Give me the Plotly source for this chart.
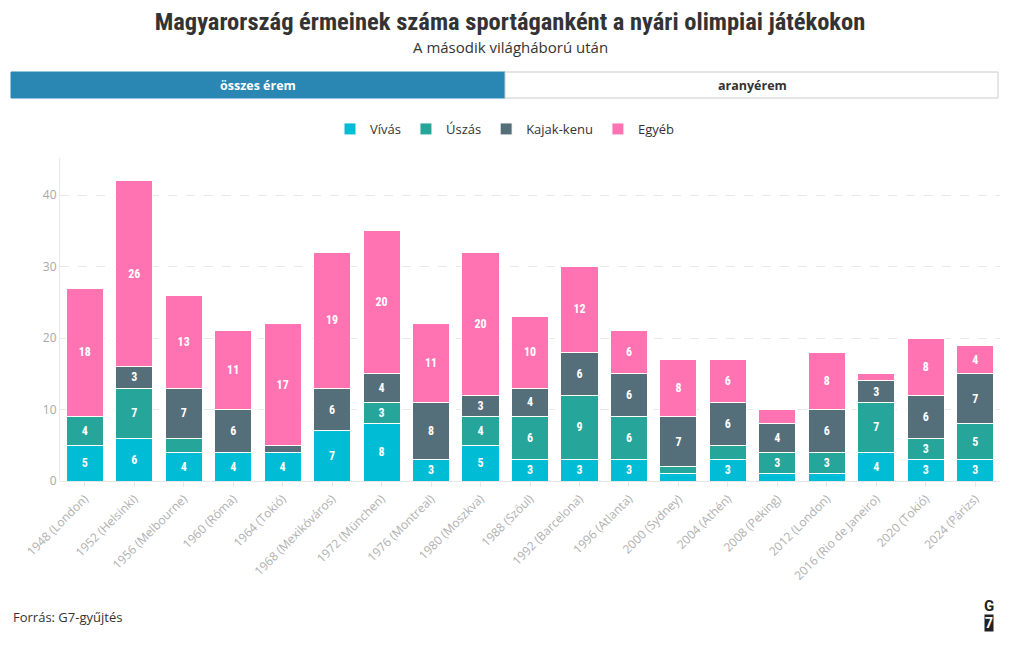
import plotly.graph_objects as go

games = ["1948 (London)", "1952 (Helsinki)", "1956 (Melbourne)", "1960 (Róma)", "1964 (Tokió)",
         "1968 (Mexikóváros)", "1972 (München)", "1976 (Montreal)", "1980 (Moszkva)", "1988 (Szöul)",
         "1992 (Barcelona)", "1996 (Atlanta)", "2000 (Sydney)", "2004 (Athén)", "2008 (Peking)",
         "2012 (London)", "2016 (Rio de Janeiro)", "2020 (Tokió)", "2024 (Párizs)"]
vivas = [5, 6, 4, 4, 4, 7, 8, 3, 5, 3, 3, 3, 1, 3, 1, 1, 4, 3, 3]
uszas = [4, 7, 2, 0, 0, 0, 3, 0, 4, 6, 9, 6, 1, 2, 3, 3, 7, 3, 5]
kajak = [0, 3, 7, 6, 1, 6, 4, 8, 3, 4, 6, 6, 7, 6, 4, 6, 3, 6, 7]
egyeb = [18, 26, 13, 11, 17, 19, 20, 11, 20, 10, 12, 6, 8, 6, 2, 8, 1, 8, 4]

series = [("Vívás", vivas, "#00bcd4"), ("Úszás", uszas, "#26a69a"),
          ("Kajak-kenu", kajak, "#546e7a"), ("Egyéb", egyeb, "#ff73b3")]

fig = go.Figure()
for name, vals, col in series:
    fig.add_trace(go.Bar(
        x=games, y=vals, name=name,
        marker=dict(color=col, line=dict(color="white", width=1)),
        text=[str(v) if v >= 3 else "" for v in vals],
        texttemplate="<b>%{text}</b>",
        textposition="inside", insidetextanchor="middle", textangle=0,
        constraintext="none",
        textfont=dict(color="white", size=12, family="Roboto Condensed, Roboto"),
        hovertemplate="%{x}<br>" + name + ": %{y}<extra></extra>",
    ))

H = 323.0  # plot height in px


def py(pix):
    return (481 - pix) / H


def px(pix):
    return (pix - 60) / 940.0


fig.update_layout(
    barmode="stack", bargap=0.25,
    width=1020, height=650,
    paper_bgcolor="white", plot_bgcolor="white",
    margin=dict(l=52, r=28, t=150, b=177),
    font=dict(family="Open Sans", color="#333"),
    title=dict(
        text="<b>Magyarország érmeinek száma sportáganként a nyári olimpiai játékokon</b>",
        x=(510 - 8) / 1020, xanchor="center", y=0.992, yanchor="top",
        font=dict(size=24.5, family="Roboto Condensed, Roboto", color="#333"),
    ),
    legend=dict(orientation="h", x=px(505), xanchor="center", y=py(129), yanchor="middle",
                font=dict(size=13, color="#333"), itemwidth=30, traceorder="normal"),
    xaxis=dict(tickangle=-45, tickfont=dict(size=12, color="#b0b0b0"), showgrid=False,
               ticks="outside", ticklen=5, tickcolor="#e6e6e6", showline=False,
               automargin=False),
    yaxis=dict(range=[0, 45.2], dtick=10, tickfont=dict(size=12, color="#a8a8a8"),
               gridcolor="#e8e8e8", griddash="dash", showline=True, linecolor="#e8e8e8",
               zeroline=True, zerolinecolor="#e6e6e6", zerolinewidth=1, ticks="",
               automargin=False),
    shapes=[
        dict(type="rect", xref="paper", yref="paper", x0=px(11), x1=px(505), y0=py(72), y1=py(98),
             fillcolor="#2a86b3", line=dict(color="#2a86b3", width=1)),
        dict(type="rect", xref="paper", yref="paper", x0=px(505), x1=px(998), y0=py(72), y1=py(98),
             fillcolor="white", line=dict(color="#cccccc", width=1)),
    ],
    annotations=[
        dict(text="A második világháború után", xref="paper", yref="paper", x=px(510), y=py(47),
             xanchor="center", yanchor="middle", showarrow=False,
             font=dict(size=15, color="#333", family="Open Sans")),
        dict(text="<b>összes érem</b>", xref="paper", yref="paper", x=px(258), y=py(85),
             xanchor="center", yanchor="middle", showarrow=False,
             font=dict(size=12.5, color="white", family="Open Sans")),
        dict(text="<b>aranyérem</b>", xref="paper", yref="paper", x=px(752), y=py(85),
             xanchor="center", yanchor="middle", showarrow=False,
             font=dict(size=12.5, color="#333", family="Open Sans")),
        dict(text="Forrás: G7-gyűjtés", xref="paper", yref="paper", x=px(11), y=py(617),
             xanchor="left", yanchor="middle", showarrow=False,
             font=dict(size=13, color="#333", family="Open Sans")),
        dict(text="<b>G</b>", xref="paper", yref="paper", x=px(989), y=py(606),
             xanchor="center", yanchor="middle", showarrow=False,
             font=dict(size=15, color="#222", family="Roboto")),
        dict(text="<b>7</b>", xref="paper", yref="paper", x=px(989), y=py(623),
             xanchor="center", yanchor="middle", showarrow=False, bgcolor="#222",
             borderpad=0, font=dict(size=14, color="white", family="Roboto")),
    ],
)

fig.write_html("out.html")
